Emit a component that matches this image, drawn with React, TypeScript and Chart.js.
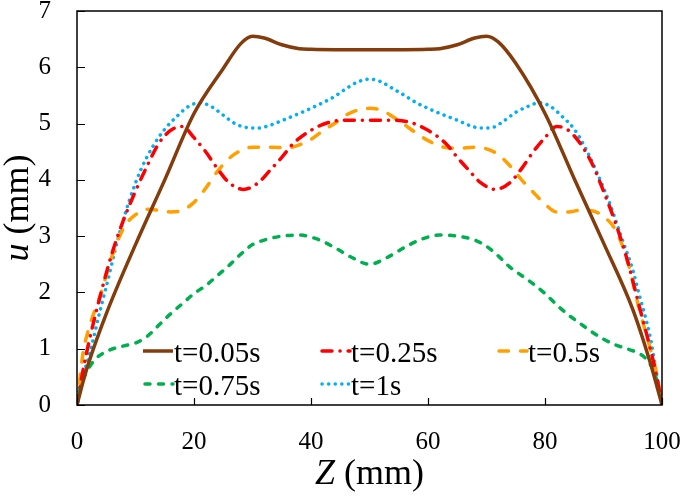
import React, { useEffect, useRef } from "react";
import { Chart, registerables } from "chart.js";

Chart.register(...registerables);

// t = 0.05 s
const z005 = [0, 1, 2, 5, 10, 15, 20, 25, 28, 30, 32, 35, 38, 40, 50, 60, 62, 65, 68, 70, 72, 75, 80, 85, 90, 95, 98, 99, 100];
const u005 = [0, 0.4, 0.75, 1.62, 2.85, 4.0, 5.18, 5.98, 6.42, 6.55, 6.52, 6.4, 6.33, 6.32, 6.31, 6.32, 6.33, 6.4, 6.52, 6.55, 6.45, 6.07, 5.18, 4.02, 2.88, 1.7, 0.75, 0.38, 0];

// t = 0.25 s
const z025 = [0, 1, 2, 4, 6, 8, 10, 12, 14, 16, 18, 20, 22, 24, 26, 28.5, 31, 33, 35, 37, 40, 43, 46, 50, 54, 57, 60, 63, 65, 67, 69, 71.5, 74, 76, 78, 80, 82, 84, 86, 88, 90, 92, 94, 96, 98, 99, 100];
const u025 = [0, 0.6, 1.1, 1.95, 2.7, 3.3, 3.8, 4.25, 4.65, 4.88, 4.95, 4.75, 4.5, 4.2, 3.95, 3.83, 3.95, 4.17, 4.4, 4.65, 4.88, 5.02, 5.06, 5.06, 5.06, 5.02, 4.88, 4.65, 4.4, 4.17, 3.95, 3.83, 3.95, 4.2, 4.5, 4.75, 4.95, 4.88, 4.65, 4.3, 3.8, 3.25, 2.6, 1.8, 1.0, 0.55, 0];

// t = 0.5 s
const z05 = [0, 1, 2, 4, 6, 8, 10, 12, 14, 16, 18, 20, 22, 24, 26, 28, 30, 33, 36, 38, 40, 42, 44, 46, 48, 50, 52, 54, 56, 58, 60, 62, 65, 68, 70, 72, 74, 76, 78, 80, 82, 84, 86, 88, 90, 92, 94, 96, 98, 99, 100];
const u05 = [0, 0.9, 1.35, 1.95, 2.65, 3.15, 3.38, 3.48, 3.46, 3.43, 3.46, 3.6, 3.85, 4.15, 4.38, 4.52, 4.58, 4.58, 4.57, 4.62, 4.72, 4.87, 5.0, 5.15, 5.24, 5.27, 5.24, 5.12, 4.98, 4.83, 4.7, 4.6, 4.56, 4.58, 4.55, 4.45, 4.25, 4.0, 3.78, 3.57, 3.43, 3.43, 3.46, 3.45, 3.35, 3.12, 2.6, 1.75, 1.0, 0.6, 0];

// t = 0.75 s
const z075 = [0, 0.5, 1, 2, 3, 5, 8, 10, 12, 14, 16, 18, 20, 22, 24, 26, 28, 30, 32, 35, 38, 41, 44, 47, 50, 53, 56, 59, 62, 65, 68, 70, 72, 74, 76, 78, 80, 82, 84, 86, 88, 90, 92, 94, 96, 97, 98, 99, 100];
const u075 = [0, 0.3, 0.45, 0.65, 0.8, 0.95, 1.05, 1.1, 1.22, 1.42, 1.62, 1.8, 1.98, 2.12, 2.3, 2.48, 2.68, 2.85, 2.93, 3.0, 3.02, 2.95, 2.8, 2.62, 2.5, 2.62, 2.8, 2.95, 3.02, 3.0, 2.93, 2.82, 2.65, 2.45, 2.3, 2.15, 1.98, 1.78, 1.6, 1.45, 1.3, 1.17, 1.07, 1.0, 0.92, 0.85, 0.72, 0.48, 0];

// t = 1 s
const z1 = [0, 1, 2, 4, 5, 7, 9, 11, 13, 15, 17, 19, 21, 23, 25, 27, 29, 31, 33, 35, 38, 40, 42, 44, 46, 48, 50, 52, 54, 56, 58, 60, 62, 65, 67, 69, 71, 73, 75, 77, 79, 81, 83, 85, 87, 89, 91, 93, 95, 96, 98, 99, 100];
const u1 = [0, 0.5, 0.85, 1.7, 2.1, 2.95, 3.65, 4.2, 4.6, 4.9, 5.12, 5.3, 5.37, 5.3, 5.15, 5.0, 4.93, 4.92, 4.97, 5.05, 5.18, 5.27, 5.37, 5.48, 5.62, 5.74, 5.79, 5.74, 5.62, 5.5, 5.37, 5.27, 5.18, 5.06, 4.97, 4.92, 4.93, 5.05, 5.2, 5.3, 5.37, 5.3, 5.12, 4.9, 4.55, 4.1, 3.6, 3.0, 2.4, 2.0, 1.2, 0.6, 0];

const seriesLabels = ["t=0.05s", "t=0.25s", "t=0.5s", "t=0.75s", "t=1s"];
const xTicks = [0, 20, 40, 60, 80, 100];
const yTicks = [0, 1, 2, 3, 4, 5, 6, 7];

const FONT = "'Liberation Serif', 'Times New Roman', serif";

const styles = [
  { color: "#843C0C", dash: [] as number[], cap: "butt" },
  { color: "#FF0000", dash: [10, 8, 0.1, 8], cap: "round" },
  { color: "#FFA000", dash: [9.5, 12], cap: "round" },
  { color: "#00B050", dash: [5, 8.5], cap: "round" },
  { color: "#00B0F0", dash: [0.1, 6.5], cap: "round" },
];

const pairs = (zs: number[], us: number[]) => zs.map((z, i) => ({ x: z, y: us[i] }));

const zeroPad = (s: any) => {
  s.paddingTop = 0;
  s.paddingBottom = 0;
  s.paddingLeft = 0;
  s.paddingRight = 0;
};

const overlayPlugin = {
  id: "overlay",
  afterDatasetsDraw(chart: any) {
    const { ctx, chartArea } = chart;
    const { left, right, top, bottom } = chartArea;
    const xs = chart.scales.x;
    const ys = chart.scales.y;
    ctx.save();
    // frame
    ctx.strokeStyle = "#000";
    ctx.lineWidth = 1.5;
    ctx.setLineDash([]);
    ctx.strokeRect(left, top, right - left, bottom - top);
    // inward ticks
    ctx.lineWidth = 1.2;
    ctx.beginPath();
    xTicks.forEach((v) => {
      const px = Math.round(xs.getPixelForValue(v)) + 0.5;
      ctx.moveTo(px, bottom);
      ctx.lineTo(px, bottom - 7);
    });
    yTicks.forEach((v) => {
      const py = Math.round(ys.getPixelForValue(v)) + 0.5;
      ctx.moveTo(left, py);
      ctx.lineTo(left + 8, py);
    });
    ctx.stroke();

    // legend
    const cols = [143, 320, 497];
    const rows = [351, 384];
    ctx.font = `29px ${FONT}`;
    ctx.textBaseline = "alphabetic";
    ctx.textAlign = "left";
    seriesLabels.forEach((lab, i) => {
      const cx = cols[i % 3];
      const cy = rows[Math.floor(i / 3)];
      const st = styles[i];
      ctx.strokeStyle = st.color;
      ctx.lineWidth = 3.5;
      ctx.lineCap = st.cap;
      ctx.setLineDash(st.dash);
      ctx.beginPath();
      ctx.moveTo(cx + (st.cap === "round" ? 2 : 0), cy);
      ctx.lineTo(cx + 30, cy);
      ctx.stroke();
      ctx.setLineDash([]);
      ctx.fillStyle = "#000";
      ctx.fillText(lab, cx + 31, cy + 11);
    });

    // axis titles
    ctx.fillStyle = "#000";
    ctx.textBaseline = "middle";
    const drawMixed = (x: number, y: number, ital: string, rest: string) => {
      ctx.font = `italic 36px ${FONT}`;
      const w1 = ctx.measureText(ital).width;
      ctx.font = `36px ${FONT}`;
      const w2 = ctx.measureText(rest).width;
      const start = x - (w1 + w2) / 2;
      ctx.textAlign = "left";
      ctx.font = `italic 36px ${FONT}`;
      ctx.fillText(ital, start, y);
      ctx.font = `36px ${FONT}`;
      ctx.fillText(rest, start + w1, y);
    };
    drawMixed((left + right) / 2, 475, "Z", " (mm)");
    ctx.save();
    ctx.translate(19, (top + bottom) / 2);
    ctx.rotate(-Math.PI / 2);
    drawMixed(0, 0, "u", " (mm)");
    ctx.restore();
    ctx.restore();
  },
};

export default function App() {
  const ref = useRef<HTMLCanvasElement | null>(null);
  useEffect(() => {
    document.body.style.margin = "0";
    const data = [
      pairs(z005, u005),
      pairs(z025, u025),
      pairs(z05, u05),
      pairs(z075, u075),
      pairs(z1, u1),
    ];
    const chart = new Chart(ref.current as HTMLCanvasElement, {
      type: "line",
      data: {
        datasets: data.map((d, i) => ({
          label: seriesLabels[i],
          data: d,
          borderColor: styles[i].color,
          backgroundColor: styles[i].color,
          borderWidth: 3.5,
          borderDash: styles[i].dash,
          borderCapStyle: styles[i].cap as any,
          pointRadius: 0,
          cubicInterpolationMode: "monotone" as const,
          fill: false,
        })),
      },
      options: {
        animation: false,
        responsive: false,
        layout: { autoPadding: false, padding: { top: 11, right: 23, left: 0, bottom: 0 } },
        plugins: { legend: { display: false }, tooltip: { enabled: false } },
        scales: {
          x: {
            type: "linear",
            min: 0,
            max: 100,
            afterFit: (s: any) => {
              s.height = 92;
              zeroPad(s);
            },
            afterBuildTicks: (s: any) => {
              s.ticks = xTicks.map((v) => ({ value: v }));
            },
            grid: { display: false, drawTicks: false },
            border: { display: false },
            ticks: {
              color: "#000",
              padding: 22,
              maxRotation: 0,
              font: { family: FONT, size: 25 },
            },
          },
          y: {
            type: "linear",
            min: 0,
            max: 7,
            afterFit: (s: any) => {
              s.width = 77;
              zeroPad(s);
            },
            afterBuildTicks: (s: any) => {
              s.ticks = yTicks.map((v) => ({ value: v }));
            },
            grid: { display: false, drawTicks: false },
            border: { display: false },
            ticks: {
              color: "#000",
              padding: 26,
              font: { family: FONT, size: 25 },
            },
          },
        },
      },
      plugins: [overlayPlugin],
    });
    return () => chart.destroy();
  }, []);
  return (
    <div style={{ width: 685, height: 497, background: "#fff" }}>
      <canvas ref={ref} width={685} height={497} style={{ display: "block" }} />
    </div>
  );
}
